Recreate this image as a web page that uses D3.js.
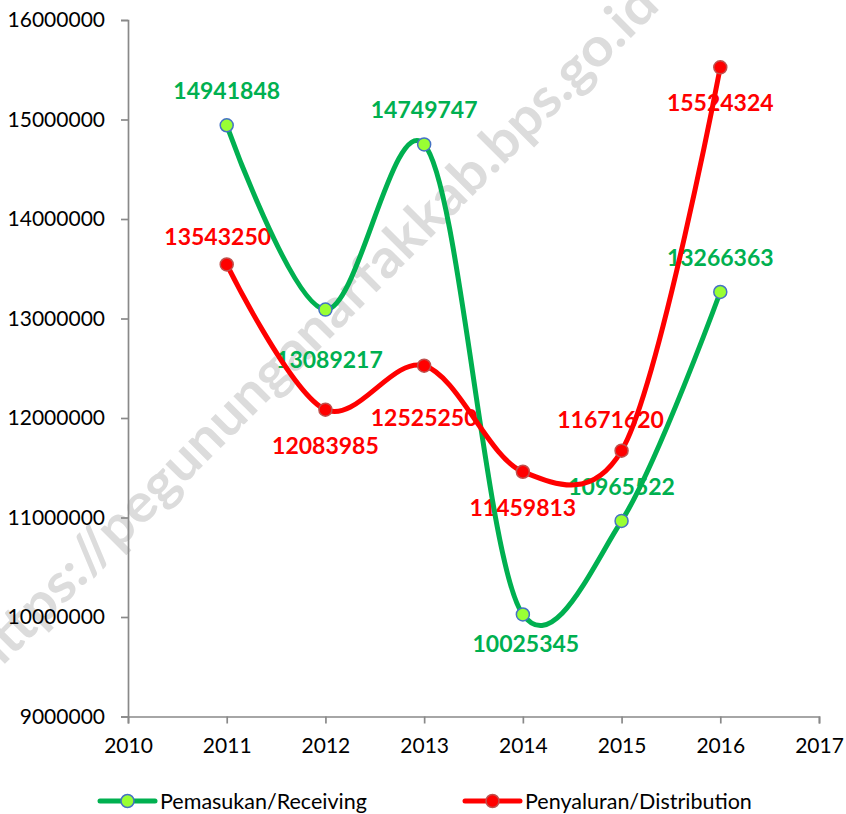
<!DOCTYPE html>
<html>
<head>
<meta charset="utf-8">
<script src="https://cdn.jsdelivr.net/npm/d3@7"></script>
<style>
  body { margin: 0; background: #fff; }
  svg { display: block; }
  text { font-family: Lato, "Open Sans", sans-serif; }
</style>
</head>
<body>
<div id="chart"></div>
<script>
// data
const years = [2011, 2012, 2013, 2014, 2015, 2016];
const receiving = [14941848, 13089217, 14749747, 10025345, 10965522, 13266363];
const distribution = [13543250, 12083985, 12525250, 11459813, 11671620, 15524324];
const seriesNames = ["Pemasukan/Receiving", "Penyaluran/Distribution"];
const xTicks = [2010, 2011, 2012, 2013, 2014, 2015, 2016, 2017];
const yTicks = [9000000, 10000000, 11000000, 12000000, 13000000, 14000000, 15000000, 16000000];
const watermark = "https://pegununganarfakkab.bps.go.id";

document.addEventListener("DOMContentLoaded", function() {
  const width = 846, height = 814;

  const svg = d3.select("#chart").append("svg")
    .attr("width", width)
    .attr("height", height);

  const x = d3.scaleLinear().domain([2010, 2017]).range([128, 819]);
  const y = d3.scaleLinear().domain([9000000, 16000000]).range([716.5, 20]);

  // label placement (dx, baseline dy relative to the point)
  const labelPos = [
    [[0, -26], [4, 58], [0, -26], [3, 38], [0, -26], [0, -26]],
    [[-9, -19], [0, 44], [0, 60], [0, 44], [-11, -23], [0, 44]]
  ];

  const series = [
    { name: seriesNames[0], values: receiving, color: "#00b050", fill: "#99ff33", stroke: "#4472c4" },
    { name: seriesNames[1], values: distribution, color: "#ff0000", fill: "#ff0000", stroke: "#c0504d" }
  ];

  // watermark behind everything
  svg.append("text")
    .attr("transform", "translate(312,330) rotate(-45)")
    .attr("text-anchor", "middle")
    .attr("dy", "0.35em")
    .attr("textLength", 950)
    .attr("lengthAdjust", "spacingAndGlyphs")
    .style("font-size", "54px")
    .style("font-weight", "bold")
    .attr("fill", "#dcdcdc")
    .text(watermark);

  // axes
  const yAxis = svg.append("g")
    .attr("transform", "translate(128,0)")
    .call(d3.axisLeft(y).tickValues(yTicks).tickFormat(d3.format("d")).tickSize(7).tickPadding(16));
  yAxis.selectAll("text").style("font-size", "21px").attr("fill", "#000");

  const xAxis = svg.append("g")
    .attr("transform", "translate(0,716.5)")
    .call(d3.axisBottom(x).tickValues(xTicks).tickFormat(d3.format("d")).tickSize(7).tickPadding(15));
  xAxis.selectAll("text").style("font-size", "21px").attr("fill", "#000");

  svg.selectAll(".domain, .tick line")
    .attr("stroke", "#898989")
    .attr("stroke-width", 1.7);

  // data labels (lines are drawn over them, as in the source)
  series.forEach((s, si) => {
    svg.append("g")
      .selectAll("text")
      .data(s.values)
      .join("text")
      .attr("x", (d, i) => x(years[i]) + labelPos[si][i][0])
      .attr("y", (d, i) => y(d) + labelPos[si][i][1])
      .attr("text-anchor", "middle")
      .style("font-size", "23px")
      .style("font-weight", "bold")
      .attr("fill", s.color)
      .text(d => d);
  });

  const line = d3.line()
    .x((d, i) => x(years[i]))
    .y(d => y(d))
    .curve(d3.curveCatmullRom.alpha(0.15));

  series.forEach(s => {
    svg.append("path")
      .datum(s.values)
      .attr("fill", "none")
      .attr("stroke", s.color)
      .attr("stroke-width", 5)
      .attr("stroke-linecap", "round")
      .attr("d", line);
  });

  series.forEach(s => {
    svg.append("g")
      .selectAll("circle")
      .data(s.values)
      .join("circle")
      .attr("cx", (d, i) => x(years[i]))
      .attr("cy", d => y(d))
      .attr("r", 6.5)
      .attr("fill", s.fill)
      .attr("stroke", s.stroke)
      .attr("stroke-width", 1.5);
  });

  // legend
  const legendX = [100, 465];
  series.forEach((s, si) => {
    const g = svg.append("g").attr("transform", `translate(${legendX[si]},801)`);
    g.append("line")
      .attr("x1", 0).attr("x2", 55)
      .attr("stroke", s.color)
      .attr("stroke-width", 5)
      .attr("stroke-linecap", "round");
    g.append("circle")
      .attr("cx", 27.5)
      .attr("r", 6.5)
      .attr("fill", s.fill)
      .attr("stroke", s.stroke)
      .attr("stroke-width", 1.5);
    g.append("text")
      .attr("x", 60)
      .attr("y", 8)
      .style("font-size", "21.5px")
      .attr("fill", "#000")
      .text(s.name);
  });
});
</script>
</body>
</html>
